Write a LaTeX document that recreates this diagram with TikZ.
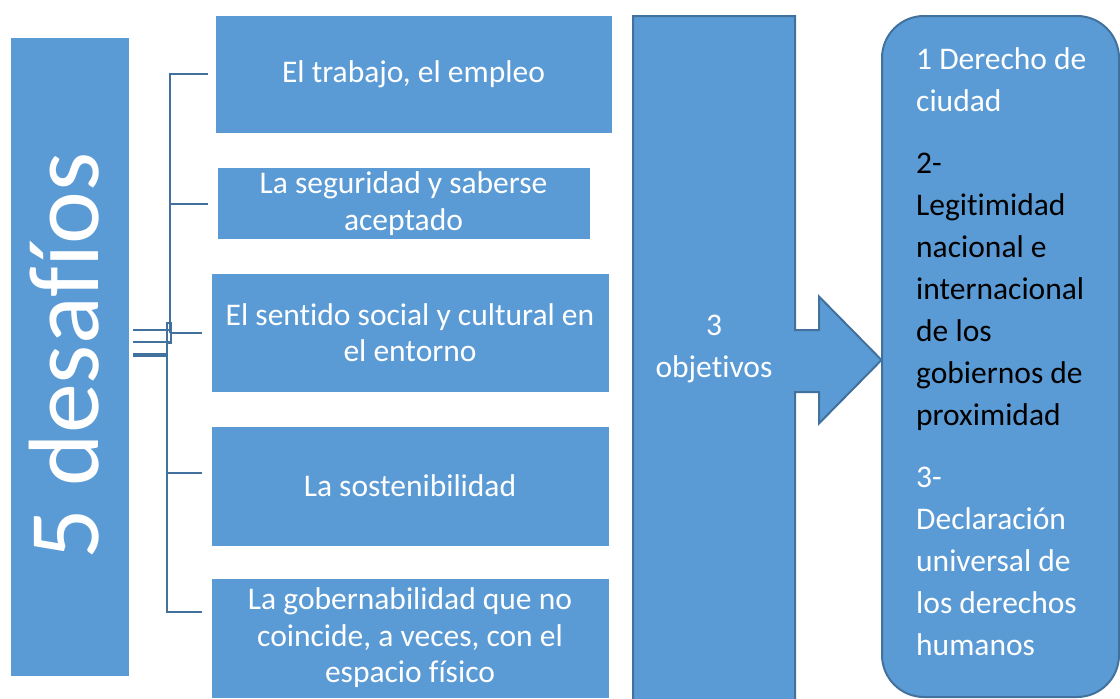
\documentclass[tikz,border=0pt]{standalone}
\usepackage{fontspec}
\setmainfont{Carlito}[Ligatures=NoCommon]
\usepackage{tikz}
\usetikzlibrary{positioning}

\definecolor{boxblue}{RGB}{91,155,213}
\definecolor{edgeblue}{RGB}{65,113,156}

\begin{document}
\begin{tikzpicture}[x=1pt, y=-1pt,
    retobox/.style={rectangle, fill=boxblue, draw=white, line width=0.8pt,
        text=white, align=center, inner sep=4pt,
        font=\fontsize{31.5}{36.5}\selectfont},
    conn/.style={draw=edgeblue, line width=2pt}]
    \useasboundingbox (0,0) rectangle (1120,699);
    \clip (0,0) rectangle (1120,699);
    % left block, rotated title
    \node[retobox, minimum width=119, minimum height=639] (desafios) at (70,356.5) {};
    \node[rotate=90, anchor=base, text=white, inner sep=0,
        font=\fontsize{100}{110}\selectfont] (titulo) at (98,356) {5 desafíos};
    % the five challenges
    \node[retobox, minimum width=397, minimum height=118] (trabajo) at (413.5,74) {El trabajo, el empleo};
    \node[retobox, minimum width=373, minimum height=71] (seguridad) at (403.5,203.5) {La seguridad y saberse\\aceptado};
    \node[retobox, minimum width=398, minimum height=119] (sentido) at (410,332.5) {El sentido social y cultural en\\el entorno};
    \node[retobox, minimum width=398, minimum height=120] (sostenib) at (410,486) {La sostenibilidad};
    \node[retobox, minimum width=398, minimum height=120] (gobern) at (410,638) {La gobernabilidad que no\\coincide, a veces, con el\\espacio físico};
    % bracket
    \coordinate (nudoA) at (170,333);
    \coordinate (nudoB) at (167,343);
    \draw[conn] (nudoA) |- ([xshift=-7]trabajo.west);
    \draw[conn] (nudoA |- seguridad.west) -- ([xshift=-9]seguridad.west);
    \draw[conn] (nudoA) -- ([xshift=-9]sentido.west |- nudoA);
    \draw[conn] (nudoB) |- ([xshift=-9,yshift=13]sostenib.west);
    \draw[conn] (nudoB) |- ([xshift=-9,yshift=26]gobern.west);
    \foreach \dy/\lw/\len in {26.5/2/37, 14.5/2/37, 1.5/3.5/34}
        \draw[conn, line width=\lw] ([xshift=3.5, yshift=\dy]desafios.east) -- ++(\len,0);
    \draw[conn, line width=1.2] (167,323) rectangle (171,343);
    % arrow column
    \draw[fill=boxblue, draw=edgeblue, line width=2pt] (633,16) -- (795,16) -- (795,330)
        -- (819,330) -- (819,296.5) -- (881.5,360) -- (819,423.5) -- (819,392)
        -- (795,392) -- (795,705) -- (633,705) -- cycle;
    \node[text=white, align=center, font=\fontsize{31.5}{42}\selectfont] (objetivos) at (714,349) {3\\objetivos};
    % goals
    \node[fill=boxblue, draw=edgeblue, line width=2pt, rounded corners=42,
        minimum width=237, minimum height=681] (metas) at (1000.5,356.5) {};
    \node[anchor=north west, text width=205, align=flush left, inner sep=0, text=white,
        font=\fontsize{31.5}{42}\selectfont] (metastxt) at (916,47)
        {1 Derecho de\\ciudad\\[20pt]\color{black}2-\\Legitimidad\\nacional e\\internacional\\de los\\gobiernos de\\proximidad\\[20pt]\color{white}3-\\Declaración\\universal de\\los derechos\\humanos};
\end{tikzpicture}
\end{document}
